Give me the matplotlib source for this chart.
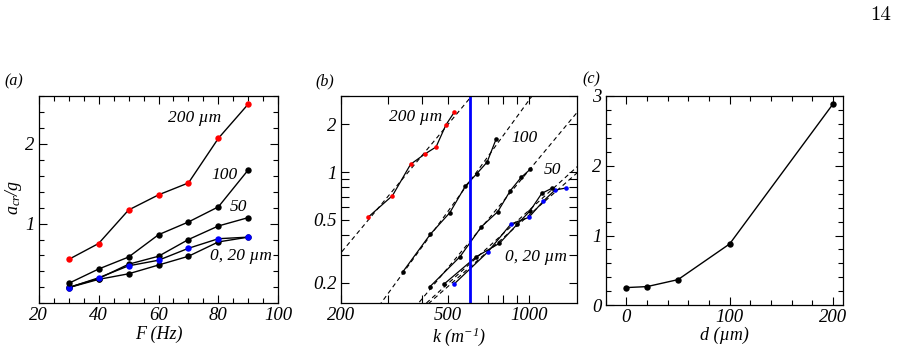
import numpy as np
import matplotlib
matplotlib.use("Agg")
import matplotlib.pyplot as plt
from matplotlib.ticker import MultipleLocator, FixedLocator, FixedFormatter, NullFormatter

plt.rcParams['font.family'] = ['Liberation Serif', 'DejaVu Serif']
plt.rcParams['font.style'] = 'italic'
plt.rcParams['mathtext.fontset'] = 'custom'
plt.rcParams['mathtext.it'] = 'Liberation Serif:italic'
plt.rcParams['mathtext.rm'] = 'Liberation Serif:italic'
plt.rcParams['mathtext.default'] = 'it'

# ---------------- data ----------------
# panel (a): a_cr/g vs F (Hz)
F = [30, 40, 50, 60, 70, 80, 90]
a_200 = [0.55, 0.75, 1.17, 1.36, 1.51, 2.07, 2.50]
a_100 = [0.25, 0.43, 0.58, 0.86, 1.02, 1.21, 1.675]
a_50 = [0.20, 0.31, 0.49, 0.59, 0.80, 0.97, 1.075]
a_0_blue = [0.196, 0.32, 0.47, 0.54, 0.69, 0.81, 0.83]
a_20_black = [0.196, 0.30, 0.37, 0.48, 0.59, 0.77, 0.83]

# panel (b): a_cr/g vs k (1/m)
k_200 = [253, 311, 363, 410, 451, 491, 527]
b_200 = [0.52, 0.71, 1.12, 1.30, 1.44, 1.99, 2.39]
k_100 = [340, 430, 507, 579, 638, 697, 752]
b_100 = [0.235, 0.406, 0.554, 0.816, 0.976, 1.156, 1.61]
k_50 = [428, 553, 664, 763, 849, 932, 1006]
b_50 = [0.189, 0.292, 0.452, 0.562, 0.762, 0.926, 1.04]
k_0_blue = [526, 701, 854, 995, 1126, 1243, 1365]
b_0_blue = [0.1965, 0.313, 0.47, 0.518, 0.656, 0.77, 0.793]
k_20_black = [483, 635, 774, 901, 1006, 1111, 1209]
b_20_black = [0.1965, 0.292, 0.355, 0.468, 0.57, 0.734, 0.789]
k_vline = 600

# panel (c): a_cr/g vs d (um)
d = [0, 20, 50, 100, 200]
c_val = [0.254, 0.268, 0.368, 0.88, 2.885]

W, H = 898, 349
fig = plt.figure(figsize=(W / 100, H / 100), dpi=100)

def ax_at(l, t, r, b):
    return fig.add_axes([l / W, 1 - b / H, (r - l) / W, (b - t) / H])

FS = 12.5     # annotations
TFS = 13.5    # tick labels
LFS = 13      # axis labels

def style(ax):
    ax.tick_params(which='both', direction='in', top=True, right=True,
                   labelsize=TFS, width=0.8, pad=3)
    ax.tick_params(which='major', length=6)
    ax.tick_params(which='minor', length=3.5)
    for s in ax.spines.values():
        s.set_linewidth(0.9)

# ---------- (a) ----------
axa = ax_at(38.7, 96, 278.3, 303.3)
kw = dict(color='black', lw=1.0, marker='o', ms=4.6, mec='none')
axa.plot(F, a_20_black, mfc='black', **kw)
axa.plot(F, a_50, mfc='black', **kw)
axa.plot(F, a_0_blue, mfc='blue', **kw)
axa.plot(F, a_100, mfc='black', **kw)
axa.plot(F, a_200, mfc='red', **kw)
axa.set_xlim(20, 100)
axa.set_ylim(0, 2.6)
axa.xaxis.set_major_locator(MultipleLocator(20))
axa.xaxis.set_minor_locator(MultipleLocator(5))
axa.yaxis.set_major_locator(FixedLocator([1, 2]))
axa.yaxis.set_major_formatter(FixedFormatter(['1', '2']))
axa.yaxis.set_minor_locator(MultipleLocator(0.2))
style(axa)
axa.set_xlabel('F (Hz)', fontsize=LFS, labelpad=1)
axa.set_ylabel(r'$a_{cr}/g$', fontsize=LFS)
axa.yaxis.set_label_coords((24 - 38.7) / 239.6, 0.51)
axa.text(72, 2.33, '200 µm', fontsize=FS, ha='center', va='center')
axa.text(82.1, 1.61, '100', fontsize=FS, ha='center', va='center')
axa.text(86.8, 1.21, '50', fontsize=FS, ha='center', va='center')
axa.text(87.4, 0.59, '0, 20 µm', fontsize=FS, ha='center', va='center')
fig.text(14 / W, 1 - 81 / H, '(a)', fontsize=FS - 1, ha='center', va='center')

# ---------- (b) ----------
axb = ax_at(340.7, 96, 577, 303.3)
axb.set_xscale('log')
axb.set_yscale('log')
kwb = dict(color='black', lw=0.9, marker='o', ms=3.3, mec='none')
kline = np.array([150, 2500])
series_b = [(k_200, b_200, 'red'), (k_100, b_100, 'black'), (k_50, b_50, 'black'),
            (k_0_blue, b_0_blue, 'blue'), (k_20_black, b_20_black, 'black')]
for kk, bb, c in series_b:
    p = np.polyfit(np.log10(kk), np.log10(bb), 1)
    axb.plot(kline, 10 ** np.polyval(p, np.log10(kline)), ls=(0, (4, 3)),
             color='black', lw=0.8)
for kk, bb, c in series_b:
    axb.plot(kk, bb, mfc=c, **kwb)
axb.axvline(k_vline, color='blue', lw=2)
axb.set_xlim(200, 1500)
axb.set_ylim(0.1485, 3.02)
axb.xaxis.set_major_locator(FixedLocator([200, 500, 1000]))
axb.xaxis.set_major_formatter(FixedFormatter(['200', '500', '1000']))
axb.xaxis.set_minor_locator(FixedLocator([300, 400, 600, 700, 800, 900]))
axb.xaxis.set_minor_formatter(NullFormatter())
axb.yaxis.set_major_locator(FixedLocator([0.2, 0.5, 1, 2]))
axb.yaxis.set_major_formatter(FixedFormatter(['0.2', '0.5', '1', '2']))
axb.yaxis.set_minor_locator(FixedLocator([0.3, 0.4, 0.6, 0.7, 0.8, 0.9, 3]))
axb.yaxis.set_minor_formatter(NullFormatter())
style(axb)
axb.tick_params(which='minor', length=6)
axb.set_xlabel(r'k (m$^{-1}$)', fontsize=LFS, labelpad=1)
axb.text(378, 2.22, '200 µm', fontsize=FS, ha='center', va='center')
axb.text(956, 1.65, '100', fontsize=FS, ha='center', va='center')
axb.text(1222, 1.03, '50', fontsize=FS, ha='center', va='center')
axb.text(1058, 0.289, '0, 20 µm', fontsize=FS, ha='center', va='center')
fig.text(325 / W, 1 - 81 / H, '(b)', fontsize=FS - 1, ha='center', va='center')

# ---------- (c) ----------
axc = ax_at(605.7, 96, 843.3, 305.3)
axc.plot(d, c_val, color='black', lw=1.0, marker='o', ms=4.6, mfc='black', mec='none')
axc.set_xlim(-20, 210)
axc.set_ylim(0, 3)
axc.xaxis.set_major_locator(MultipleLocator(100))
axc.xaxis.set_minor_locator(MultipleLocator(20))
axc.yaxis.set_major_locator(MultipleLocator(1))
axc.yaxis.set_minor_locator(MultipleLocator(0.2))
style(axc)
axc.set_xlabel('d (µm)', fontsize=LFS, labelpad=0)
fig.text(591 / W, 1 - 79 / H, '(c)', fontsize=FS - 1, ha='center', va='center')

fig.text(881 / W, 1 - 15 / H, '14', fontsize=15, family='cmr10', style='normal',
         ha='center', va='center')

fig.savefig('out.png', dpi=100)
